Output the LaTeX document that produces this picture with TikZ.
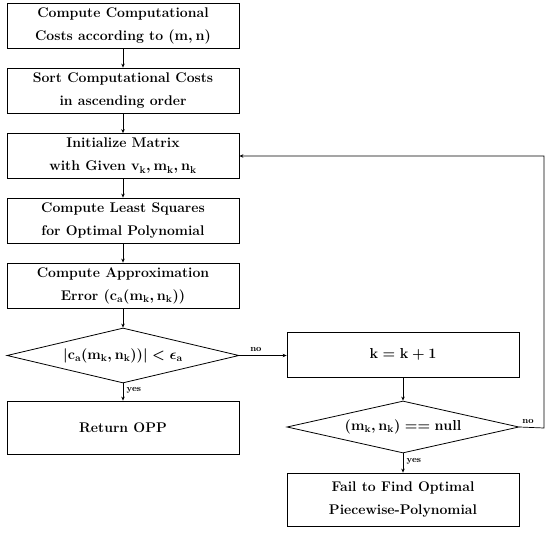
\documentclass[tikz,border=0pt]{standalone}
\usetikzlibrary{shapes.geometric,arrows.meta}
\begin{document}
\begin{tikzpicture}[x=1pt,y=-1pt,
  every node/.style={font=\fontsize{14}{23}\selectfont\bfseries\boldmath, align=center},
  box/.style={draw, line width=0.8pt, rectangle, minimum width=232pt, minimum height=45pt, inner sep=0pt},
  dec/.style={draw, line width=0.8pt, diamond, aspect=4.2, minimum width=232pt, minimum height=55pt, inner sep=0pt},
  lbl/.style={font=\fontsize{9}{10}\selectfont\bfseries},
  arr/.style={line width=0.7pt, -{Stealth[length=4pt,width=3.5pt]}}]
\useasboundingbox (0,0) rectangle (550,533);
\node[box] (b1) at (123,26) {Compute Computational\\Costs according to $(\mathbf{m},\mathbf{n})$};
\node[box] (b2) at (123,90.5) {Sort Computational Costs\\in ascending order};
\node[box] (b3) at (123,156) {Initialize Matrix\\with Given $\mathbf{v_k},\mathbf{m_k},\mathbf{n_k}$};
\node[box] (b4) at (123,220.5) {Compute Least Squares\\for Optimal Polynomial};
\node[box] (b5) at (123,285.5) {Compute Approximation\\Error $(\mathbf{c_a}(\mathbf{m_k},\mathbf{n_k}))$};
\node[dec] (d1) at (123,355.5) {$|\mathbf{c_a}(\mathbf{m_k},\mathbf{n_k}))| < \epsilon_{\mathbf{a}}$};
\node[box, minimum height=53pt] (b6) at (123,427.5) {Return OPP};
\node[box] (bk) at (403,354.5) {$\mathbf{k} = \mathbf{k} + \mathbf{1}$};
\node[dec, minimum height=52pt, aspect=4.46] (d2) at (403,427) {$(\mathbf{m_k},\mathbf{n_k}) == \mathbf{null}$};
\node[box, minimum height=53pt] (bf) at (403,499.5) {Fail to Find Optimal\\Piecewise-Polynomial};
\coordinate (c1) at (544,428);
\draw[arr] (b1) -- (b2);
\draw[arr] (b2) -- (b3);
\draw[arr] (b3) -- (b4);
\draw[arr] (b4) -- (b5);
\draw[arr] (b5) -- (d1);
\draw[arr] (d1) -- node[lbl, right, pos=0.4] {yes} (b6);
\draw[arr] (d1.east) -- node[lbl, above, pos=0.35] {no} (d1.east -| bk.west);
\draw[arr] (bk) -- (d2);
\draw[arr] (d2) -- node[lbl, right, pos=0.4] {yes} (bf);
\draw[arr] (d2.east) -- node[lbl, above, pos=0.35] {no} (c1) |- (b3.east);
\end{tikzpicture}
\end{document}
